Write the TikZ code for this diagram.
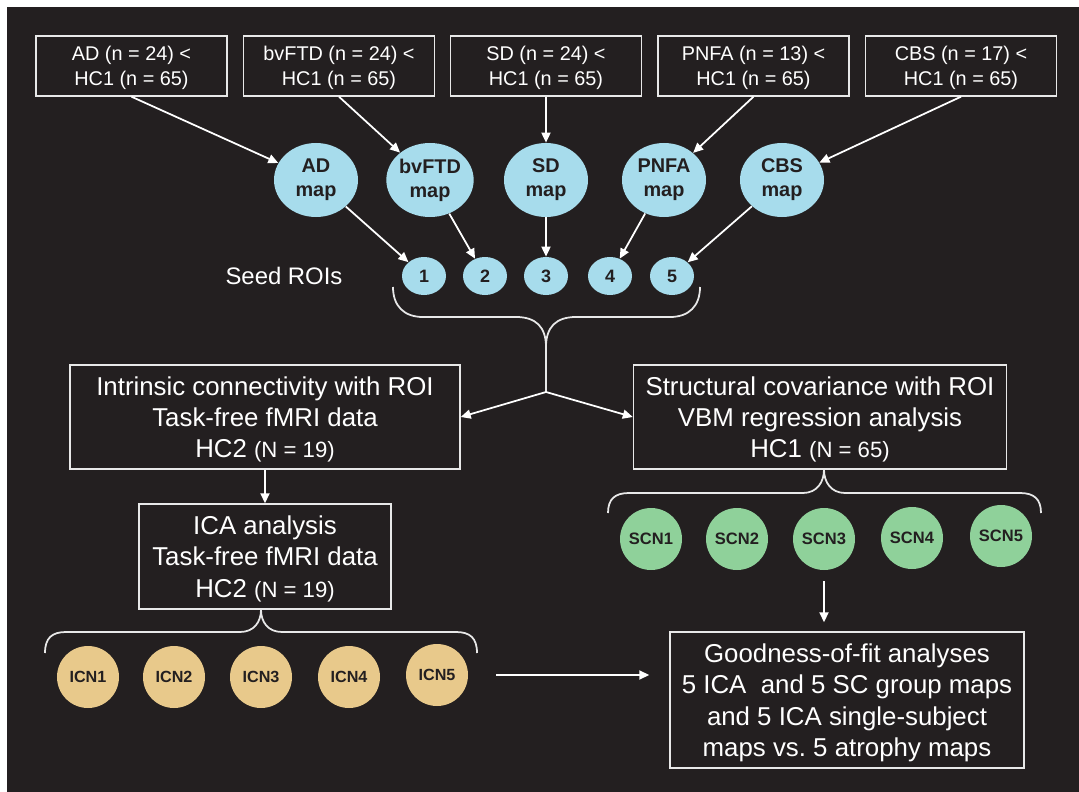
\documentclass[tikz,border=0pt]{standalone}
\usepackage{fontspec}
\setmainfont{Liberation Sans}
\usetikzlibrary{arrows.meta,
                positioning,
                shapes.geometric}

\definecolor{bgdark}{HTML}{231F20}
\definecolor{mapblue}{HTML}{A7DCEC}
\definecolor{icntan}{HTML}{E8C98B}
\definecolor{scngreen}{HTML}{8FD19A}
\definecolor{linegray}{HTML}{E8E8E8}

\newcommand{\grpn}[1]{{\fontsize{12.6}{17.9}\selectfont #1}}

\tikzset{
    cmpbox/.style={draw=linegray, line width=0.8pt, text=white, align=center,
        inner sep=0pt, minimum width=3.82cm, minimum height=1.2cm, text depth=0pt,
        font=\fontsize{11.3}{14.2}\selectfont},
    stagebox/.style={draw=linegray, line width=0.8pt, text=white, align=center,
        inner sep=0pt, text depth=0pt, font=\fontsize{14.7}{17.8}\selectfont},
    mapnode/.style={ellipse, fill=mapblue, text=bgdark, align=center, inner sep=0pt,
        minimum width=1.68cm, minimum height=1.48cm,
        font=\bfseries\fontsize{11.3}{13.6}\selectfont},
    seednode/.style={ellipse, fill=mapblue, text=bgdark, inner sep=0pt,
        minimum width=0.88cm, minimum height=0.76cm,
        font=\bfseries\fontsize{10.2}{12}\selectfont},
    icnnode/.style={circle, fill=icntan, text=bgdark, inner sep=0pt,
        minimum size=1.24cm, font=\bfseries\fontsize{9.2}{11}\selectfont},
    scnnode/.style={circle, fill=scngreen, text=bgdark, inner sep=0pt,
        minimum size=1.24cm, font=\bfseries\fontsize{9.4}{11}\selectfont},
    flow/.style={draw=white, line width=1pt, -{Triangle[length=2mm,width=1.8mm]}},
    bracket/.style={draw=linegray, line width=1pt},
}

\begin{document}
\begin{tikzpicture}[x=0.2mm, y=-0.2mm]
    \fill[white] (0,0) rectangle (1079,792);
    \fill[bgdark] (7,7) rectangle (1079,792);
    \useasboundingbox (0,0) rectangle (1079,792);

    % group contrasts
    \node[cmpbox] (cad) at (131.5,66) {AD (n = 24) <\\HC1 (n = 65)};
    \node[cmpbox] (cbv) at (339,66) {bvFTD (n = 24) <\\HC1 (n = 65)};
    \node[cmpbox] (csd) at (546,66) {SD (n = 24) <\\HC1 (n = 65)};
    \node[cmpbox] (cpn) at (753.5,66) {PNFA (n = 13) <\\HC1 (n = 65)};
    \node[cmpbox] (ccb) at (961,66) {CBS (n = 17) <\\HC1 (n = 65)};

    % atrophy maps
    \node[mapnode] (mad) at (316,180) {AD\\map};
    \node[mapnode] (mbv) at (430,180) {bvFTD\\map};
    \node[mapnode] (msd) at (546,180) {SD\\map};
    \node[mapnode] (mpn) at (664,180) {PNFA\\map};
    \node[mapnode] (mcb) at (782,180) {CBS\\map};

    % seed ROIs
    \node[text=white, font=\fontsize{13.6}{16}\selectfont] (seedlab) at (284,276) {Seed ROIs};
    \node[seednode] (s1) at (424,276) {1};
    \node[seednode] (s2) at (485,276) {2};
    \node[seednode] (s3) at (546,276) {3};
    \node[seednode] (s4) at (610,276) {4};
    \node[seednode] (s5) at (672,276) {5};

    \draw[flow] (cad.south) -- (mad);
    \draw[flow] (cbv.south) -- (mbv);
    \draw[flow] (csd.south) -- (msd.north);
    \draw[flow] (cpn.south) -- (mpn);
    \draw[flow] (ccb.south) -- (mcb);

    \draw[flow] (mad) -- (s1);
    \draw[flow] (mbv) -- (s2);
    \draw[flow] (msd) -- (s3);
    \draw[flow] (mpn) -- (s4);
    \draw[flow] (mcb) -- (s5);

    % analyses
    \node[stagebox, minimum width=7.8cm, minimum height=2.08cm] (intr) at (265,417)
        {Intrinsic connectivity with ROI\\Task-free fMRI data\\HC2 \grpn{(N = 19)}};
    \node[stagebox, minimum width=7.46cm, minimum height=2.08cm] (struct) at (820,417)
        {Structural covariance with ROI\\VBM regression analysis\\HC1 \grpn{(N = 65)}};
    \node[stagebox, minimum width=5.04cm, minimum height=2.1cm] (ica) at (265,556.5)
        {ICA analysis\\Task-free fMRI data\\HC2 \grpn{(N = 19)}};
    \node[stagebox, minimum width=7.08cm, minimum height=2.72cm] (good) at (847,700)
        {Goodness-of-fit analyses\\5 ICA~ and 5 SC group maps\\and 5 ICA single-subject\\maps vs.\ 5 atrophy maps};

    % seed brace
    \coordinate (seedtip) at (546,347);
    \coordinate (jn) at (546,392);
    \draw[bracket] (393,287) .. controls (393,306) and (404,317) .. (423,317) -- (516,317)
        .. controls (536,317) and (546,327) .. (seedtip);
    \draw[bracket] (700,287) .. controls (700,306) and (689,317) .. (670,317) -- (576,317)
        .. controls (556,317) and (546,327) .. (seedtip);
    \draw[bracket] (seedtip) -- (jn);
    \draw[flow] (jn) -- (intr.east);
    \draw[flow] (jn) -- (struct.west);
    \draw[flow] (intr) -- (ica);

    % networks
    \node[icnnode] (icn1) at (88,677) {ICN1};
    \node[icnnode] (icn2) at (174,677) {ICN2};
    \node[icnnode] (icn3) at (261,677) {ICN3};
    \node[icnnode] (icn4) at (349,677) {ICN4};
    \node[icnnode] (icn5) at (437,675) {ICN5};

    \node[scnnode] (scn1) at (651,539) {SCN1};
    \node[scnnode] (scn2) at (737,539) {SCN2};
    \node[scnnode] (scn3) at (824,539) {SCN3};
    \node[scnnode] (scn4) at (912,538) {SCN4};
    \node[scnnode] (scn5) at (1001,536) {SCN5};

    \coordinate (icntip) at (icn3 |- ica.south);
    \draw[bracket] (45,653) .. controls (45,638) and (52,632) .. (66,632) -- (240,632)
        .. controls (254,632) and (261,622) .. (icntip);
    \draw[bracket] (477,653) .. controls (477,638) and (470,632) .. (456,632) -- (282,632)
        .. controls (268,632) and (261,622) .. (icntip);

    \coordinate (scntip) at (scn3 |- struct.south);
    \draw[bracket] (608,513) .. controls (608,499) and (615,493) .. (629,493) -- (803,493)
        .. controls (817,493) and (824,482) .. (scntip);
    \draw[bracket] (1041,513) .. controls (1041,499) and (1034,493) .. (1020,493) -- (845,493)
        .. controls (831,493) and (824,482) .. (scntip);

    \draw[flow, shorten <=0.22cm, shorten >=0.18cm] (scn3) -- (scn3 |- good.north);
    \draw[flow, shorten <=0.56cm, shorten >=0.4cm] (icn5) -- (icn5 -| good.west);
\end{tikzpicture}
\end{document}
